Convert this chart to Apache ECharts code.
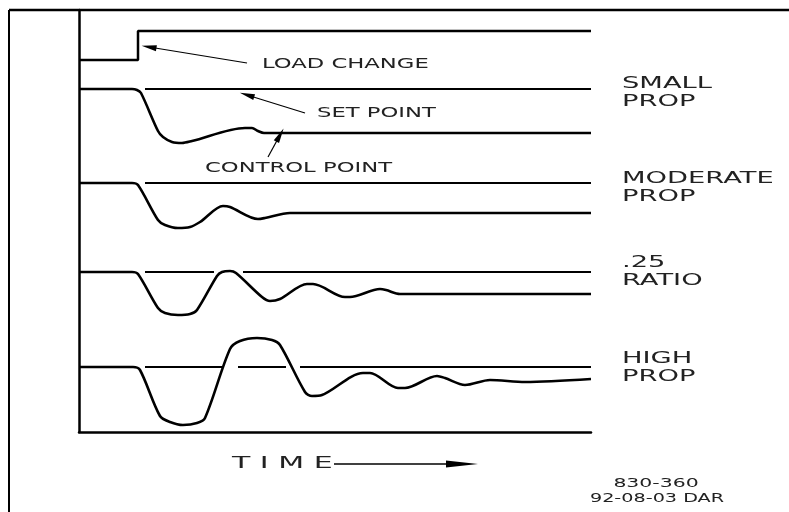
<!DOCTYPE html>
<html>
<head>
<meta charset="utf-8">
<title>Proportional control response</title>
<script src="https://cdn.jsdelivr.net/npm/echarts@6/dist/echarts.min.js"></script>
<style>
html, body { margin: 0; padding: 0; background: #fff; }
#chart { width: 789px; height: 512px; }
</style>
</head>
<body>
<div id="chart"></div>
<script>
// time runs 0..512 along the bottom axis, level runs 0 (top) .. 422 (time axis)
const loadChange = [[0, 50], [59, 50], [59, 21], [512, 21]];

const smallSet = [[66, 79], [512, 79]];
const smallCtrl = [[0, 79], [53, 79], [58, 80], [62, 83], [79, 121], [84, 127], [93, 132], [103, 133],
  [113, 131], [166, 118], [173, 118], [179, 121], [185, 123], [512, 123]];

const modSet = [[66, 173], [512, 173]];
const modCtrl = [[0, 173], [53, 173], [59, 175], [79, 210], [86, 215], [99, 218], [111, 217], [121, 212],
  [144, 196], [151, 197], [179, 209], [186, 208], [211, 203], [512, 203]];

const ratioSet = [[66, 262], [135, 262], [135, null], [164, null], [164, 262], [512, 262]];
const ratioCtrl = [[0, 262], [53, 262], [59, 264], [79, 298], [86, 303], [99, 305], [111, 304], [118, 300],
  [138, 266], [143, 262], [151, 261], [157, 263], [183, 287], [191, 291], [201, 289], [228, 274],
  [234, 274], [266, 287], [271, 287], [301, 279], [307, 280], [321, 284], [512, 284]];

const highSet = [[66, 357], [143, 357], [143, null], [159, null], [159, 357], [207, 357], [207, null],
  [221, null], [221, 357], [512, 357]];
const highCtrl = [[0, 357], [54, 357], [61, 360], [81, 406], [91, 412], [104, 415], [118, 413], [126, 408],
  [151, 339], [161, 331], [178, 328], [193, 330], [201, 335], [226, 382], [233, 386], [243, 385],
  [284, 363], [291, 363], [319, 378], [326, 378], [358, 366], [366, 368], [386, 375], [411, 370],
  [446, 372], [512, 369]];

// pointer arrows: [tail, head]
const loadArrow = [[168, 53], [70, 37]];
const setArrow = [[226, 103], [168, 85]];
const ctrlArrow = [[189, 147], [201, 125]];

const rightLabels = [['SMALL', 84], ['PROP', 102], ['MODERATE', 179], ['PROP', 197],
  ['.25', 263], ['RATIO', 281], ['HIGH', 359], ['PROP', 377]];

const chart = echarts.init(document.getElementById('chart'));

function txt(str, x, y, size, sx, align) {
  return {
    type: 'text', x: x, y: y, scaleX: sx, silent: true,
    style: {
      text: str, fill: '#222', font: size + 'px "DejaVu Sans"',
      align: align || 'left', verticalAlign: 'middle',
      textAlign: align || 'left', textVerticalAlign: 'middle'
    }
  };
}

function arrowLine(pair) {
  return [{ coord: pair[0], symbol: 'none' },
    { coord: pair[1], symbol: 'triangle', symbolSize: [6, 15] }];
}

function curve(data, width, smooth, extra) {
  return Object.assign({
    type: 'line', data: data, showSymbol: false, smooth: smooth, connectNulls: false,
    silent: true, animation: false,
    lineStyle: { color: '#000', width: width }
  }, extra || {});
}

const graphics = [
  { type: 'line', silent: true, shape: { x1: 9, y1: 10, x2: 789, y2: 10 }, style: { stroke: '#000', lineWidth: 2.5 } },
  { type: 'line', silent: true, shape: { x1: 9, y1: 10, x2: 9, y2: 512 }, style: { stroke: '#000', lineWidth: 2 } },
  txt('LOAD CHANGE', 262, 64, 14, 1.62),
  txt('SET POINT', 317, 113, 14, 1.62),
  txt('CONTROL POINT', 205, 168, 14, 1.62),
  txt('T I M E', 232, 464, 15, 2.0),
  { type: 'line', silent: true, shape: { x1: 334, y1: 464, x2: 452, y2: 464 }, style: { stroke: '#000', lineWidth: 1.3 } },
  { type: 'polygon', silent: true, shape: { points: [[446, 460.5], [478, 464], [446, 467.5]] }, style: { fill: '#000' } },
  txt('830-360', 656, 484, 12, 1.7, 'center'),
  txt('92-08-03 DAR', 657, 499, 12, 1.6, 'center')
];
rightLabels.forEach(function (l) { graphics.push(txt(l[0], 622, l[1], 15, 1.82)); });

chart.setOption({
  animation: false,
  backgroundColor: '#fff',
  grid: { left: 79, right: 198, top: 10, bottom: 80 },
  xAxis: {
    type: 'value', min: 0, max: 512,
    axisLine: { show: true, onZero: false, lineStyle: { color: '#000', width: 2.5 } },
    axisTick: { show: false }, axisLabel: { show: false }, splitLine: { show: false }
  },
  yAxis: {
    type: 'value', min: 0, max: 422, inverse: true,
    axisLine: { show: true, onZero: false, lineStyle: { color: '#000', width: 2.5 } },
    axisTick: { show: false }, axisLabel: { show: false }, splitLine: { show: false }
  },
  series: [
    curve(loadChange, 2.5, false, {
      markLine: {
        silent: true, animation: false, symbol: ['none', 'triangle'],
        label: { show: false }, lineStyle: { color: '#000', width: 1.2, type: 'solid' },
        emphasis: { disabled: true },
        data: [arrowLine(loadArrow), arrowLine(setArrow), arrowLine(ctrlArrow)]
      }
    }),
    curve(smallSet, 2, false),
    curve(smallCtrl, 2.6, 0.3),
    curve(modSet, 2, false),
    curve(modCtrl, 2.6, 0.3),
    curve(ratioSet, 2, false),
    curve(ratioCtrl, 2.6, 0.3),
    curve(highSet, 2, false),
    curve(highCtrl, 2.6, 0.3)
  ],
  graphic: { elements: graphics }
});
</script>
</body>
</html>
